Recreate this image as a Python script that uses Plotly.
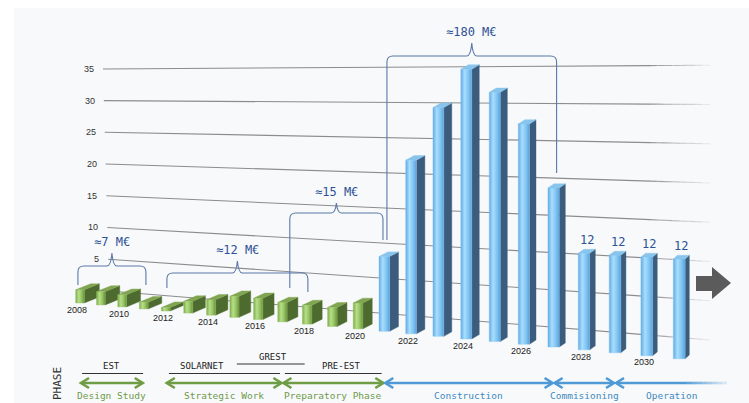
import plotly.graph_objects as go

# ---------------- data ----------------
years = list(range(2008, 2032))
budget_meur = [2.0, 2.0, 1.8, 1.0, 0.5, 1.7, 2.2, 3.0, 3.0, 2.7, 2.6, 2.6, 3.5,
               10.0, 23.0, 30.0, 35.0, 32.0, 28.0, 20.0, 12.0, 12.0, 12.0, 12.0]
stage = ["pre"] * 13 + ["build"] * 11
grid_values = [0, 5, 10, 15, 20, 25, 30, 35]
tick_values = [5, 10, 15, 20, 25, 30, 35]
year_ticks = list(range(2008, 2031, 2))
labelled_years = [2028, 2029, 2030, 2031]

total_text = ["≈7 M€", "≈12 M€", "≈15 M€", "≈180 M€"]
total_from = [2007.9, 2012.05, 2017.3, 2021.1]
total_to = [2011.1, 2018.03, 2020.95, 2027.1]

project_names = ["EST", "SOLARNET", "GREST", "PRE-EST"]
project_from = [2008.1, 2012.14, 2015.1, 2017.1]
project_to = [2010.97, 2016.9, 2017.9, 2020.9]
project_mid = [2009.5, 2013.6, 2016.6, 2019.35]

phase_names = ["Design Study", "Strategic Work", "Preparatory Phase",
               "Construction", "Commisioning", "Operation"]
phase_from = [2008, 2012, 2017, 2021, 2027, 2029]
phase_to = [2011, 2017, 2021, 2027, 2029, 2032.46]

# ---------------- perspective projection ----------------
W, H = 749, 403


def depth_factor(yr):
    return 1.0 - 0.00897 * (yr - 2008)


def bar_x(yr):
    return (80.0 + 19.96 * (yr - 2008)) / depth_factor(yr)


def floor_y(x):
    return 303.0 + 0.093 * (x - 80.0)


def px_per_unit(yr):
    return 6.6 / depth_factor(yr)


def wall_y(x, v):
    t = (x - 103.0) / 607.0
    return 290.5 + 49.5 * t - v * (6.33 + 1.52 * t)


def wall_x0(v):
    return 103.0 + (35 - v) * 0.17


WALL_X1 = 710.0

fig = go.Figure()
shapes = []
annotations = []

# background panel
shapes.append(dict(type="rect", x0=14, x1=W, y0=8, y1=H, xref="x", yref="y",
                   fillcolor="#f8f9fa", line=dict(width=0), layer="below"))

# back-wall grid lines, fading towards the right end
for v in grid_values:
    xa = wall_x0(v)
    xf = 650.0
    fig.add_trace(go.Scatter(x=[xa, xf], y=[wall_y(xa, v), wall_y(xf, v)], mode="lines",
                             line=dict(color="#8c8c8c", width=1.1), hoverinfo="skip"))
    nseg = 8
    for s in range(nseg):
        xs0 = xf + (WALL_X1 - xf) * s / nseg
        xs1 = xf + (WALL_X1 - xf) * (s + 1) / nseg
        g = int(0x8c + (0xe8 - 0x8c) * (s + 1) / nseg)
        fig.add_trace(go.Scatter(x=[xs0, xs1], y=[wall_y(xs0, v), wall_y(xs1, v)], mode="lines",
                                 line=dict(color=f"rgb({g},{g},{g})", width=1.1), hoverinfo="skip"))

for v in tick_values:
    xa = wall_x0(v)
    annotations.append(dict(x=xa - 7, y=wall_y(xa, v), text=str(v), showarrow=False,
                            xanchor="right", yanchor="middle",
                            font=dict(family="Liberation Sans, Arial", size=9, color="#333333")))


def face(xs, ys, color=None, gradient=None):
    kw = dict(x=xs + [xs[0]], y=ys + [ys[0]], mode="lines", fill="toself",
              line=dict(width=0.4, color=color or gradient[len(gradient) // 2][1]),
              hoverinfo="skip")
    if gradient is not None:
        kw["fillgradient"] = dict(type="horizontal", colorscale=gradient)
    else:
        kw["fillcolor"] = color
    fig.add_trace(go.Scatter(**kw))


GREEN_FRONT = [[0, "#7cad48"], [0.35, "#b8de8a"], [0.7, "#93c160"], [1, "#659238"]]
GREEN_SIDE = "#4e6b2f"
GREEN_TOP = "#80a550"
BLUE_FRONT = [[0, "#62aae2"], [0.35, "#a8deff"], [0.7, "#80c4f2"], [1, "#5ca2da"]]
BLUE_SIDE = "#3c5c7d"
BLUE_TOP = "#88c4ec"

for yr, val, kind in zip(years, budget_meur, stage):
    i = yr - 2008
    p = depth_factor(yr)
    pre = kind == "pre"
    cx = bar_x(yr)
    w = (8.6 if pre else 9.4) / p
    dx = 15.0 - 0.47 * i
    dy = -(6.0 - 0.1 * i)
    xl, xr = cx - w / 2, cx + w / 2
    yb = floor_y(cx)
    yt = yb - val * px_per_unit(yr)
    face([xr, xr + dx, xr + dx, xr], [yt, yt + dy, yb + dy, yb], color=GREEN_SIDE if pre else BLUE_SIDE)
    face([xl, xr, xr + dx, xl + dx], [yt, yt, yt + dy, yt + dy], color=GREEN_TOP if pre else BLUE_TOP)
    face([xl, xr, xr, xl], [yt, yt, yb, yb], gradient=GREEN_FRONT if pre else BLUE_FRONT)
    if yr in labelled_years:
        annotations.append(dict(x=cx + dx / 2, y=yt + dy - 9, text=f"{val:g}", showarrow=False,
                                xanchor="center", yanchor="middle",
                                font=dict(family="DejaVu Sans Mono", size=12, color="#2d5196")))

# year labels on the floor
for yr in year_ticks:
    x = bar_x(yr) - 3
    annotations.append(dict(x=x, y=floor_y(x) + 7, text=str(yr), showarrow=False,
                            xanchor="center", yanchor="middle",
                            font=dict(family="Liberation Sans, Arial", size=9, color="#222222")))

# time arrow at the end of the wall
shapes.append(dict(type="path", xref="x", yref="y",
                   path="M696,276 L712,276 L712,267 L731,283 L712,299 L712,291 L696,291 Z",
                   fillcolor="#5b5b5b", line=dict(width=0)))

# cost braces
brace_geom = [  # top, peak, left foot, right foot, text y
    (266, 253, 285, 285, 242),
    (273, 261, 288, 292, 250),
    (213, 203, 288, 240, 192),
    (56, 43, 240, 173, 32),
]


def brace_path(x0, x1, top, peak, f0, f1, r=6):
    xm = (x0 + x1) / 2
    return (f"M{x0},{f0} L{x0},{top + r} Q{x0},{top} {x0 + r},{top} "
            f"L{xm - 5},{top} Q{xm - 1},{top} {xm},{peak} "
            f"Q{xm + 1},{top} {xm + 5},{top} L{x1 - r},{top} Q{x1},{top} {x1},{top + r} L{x1},{f1}")


for txt, a, b, (top, peak, f0, f1, ty) in zip(total_text, total_from, total_to, brace_geom):
    x0, x1 = bar_x(a), bar_x(b)
    shapes.append(dict(type="path", xref="x", yref="y", path=brace_path(x0, x1, top, peak, f0, f1),
                       line=dict(color="#5b78a8", width=1.1)))
    annotations.append(dict(x=(x0 + x1) / 2, y=ty, text=txt, showarrow=False,
                            xanchor="center", yanchor="middle",
                            font=dict(family="DejaVu Sans Mono", size=12, color="#2d5196")))

# project names with their spans
proj_y = {"GREST": (357, 364)}
for name, a, b, m in zip(project_names, project_from, project_to, project_mid):
    ty, ly = proj_y.get(name, (366, 373.5))
    shapes.append(dict(type="line", xref="x", yref="y", x0=bar_x(a), x1=bar_x(b), y0=ly, y1=ly,
                       line=dict(color="#333333", width=1)))
    annotations.append(dict(x=bar_x(m), y=ty, text=name, showarrow=False,
                            xanchor="center", yanchor="middle",
                            font=dict(family="DejaVu Sans Mono", size=9, color="#222222")))

annotations.append(dict(x=57, y=384, text="PHASE", showarrow=False, textangle=-90,
                        xanchor="center", yanchor="middle",
                        font=dict(family="DejaVu Sans Mono", size=11, color="#333333")))

# phase arrows
ARROW_Y = 383
for k, (name, a, b) in enumerate(zip(phase_names, phase_from, phase_to)):
    col = "#6f9d45" if k < 3 else "#4f9ad6"
    tcol = "#6e9a4c" if k < 3 else "#3f8ac0"
    x0, x1 = bar_x(a) + 1, bar_x(b) - 1
    open_end = k == len(phase_names) - 1
    if open_end:
        xf = x1 - 40
        shapes.append(dict(type="line", xref="x", yref="y", x0=x0, x1=xf, y0=ARROW_Y, y1=ARROW_Y,
                           line=dict(color=col, width=2.6)))
        for s in range(8):
            xs0 = xf + (x1 - xf) * s / 8
            xs1 = xf + (x1 - xf) * (s + 1) / 8
            alpha = 1 - 0.8 * (s + 1) / 8
            shapes.append(dict(type="line", xref="x", yref="y", x0=xs0, x1=xs1, y0=ARROW_Y, y1=ARROW_Y,
                               line=dict(color=f"rgba(79,154,214,{alpha:.2f})", width=2.6)))
    else:
        shapes.append(dict(type="line", xref="x", yref="y", x0=x0, x1=x1, y0=ARROW_Y, y1=ARROW_Y,
                           line=dict(color=col, width=2.6)))
        shapes.append(dict(type="path", xref="x", yref="y",
                           path=f"M{x1 - 8},{ARROW_Y - 5} L{x1},{ARROW_Y} L{x1 - 8},{ARROW_Y + 5}",
                           line=dict(color=col, width=2.6)))
    shapes.append(dict(type="path", xref="x", yref="y",
                       path=f"M{x0 + 8},{ARROW_Y - 5} L{x0},{ARROW_Y} L{x0 + 8},{ARROW_Y + 5}",
                       line=dict(color=col, width=2.6)))
    annotations.append(dict(x=(bar_x(a) + bar_x(b)) / 2, y=395.5, text=name, showarrow=False,
                            xanchor="center", yanchor="middle",
                            font=dict(family="DejaVu Sans Mono", size=9.5, color=tcol)))

fig.update_layout(
    width=W, height=H, margin=dict(l=0, r=0, t=0, b=0),
    paper_bgcolor="#ffffff", plot_bgcolor="#ffffff", showlegend=False,
    xaxis=dict(range=[0, W], visible=False, fixedrange=True),
    yaxis=dict(range=[H, 0], visible=False, fixedrange=True),
    shapes=shapes, annotations=annotations,
)

fig.write_html("out.html", config={"displayModeBar": False})
